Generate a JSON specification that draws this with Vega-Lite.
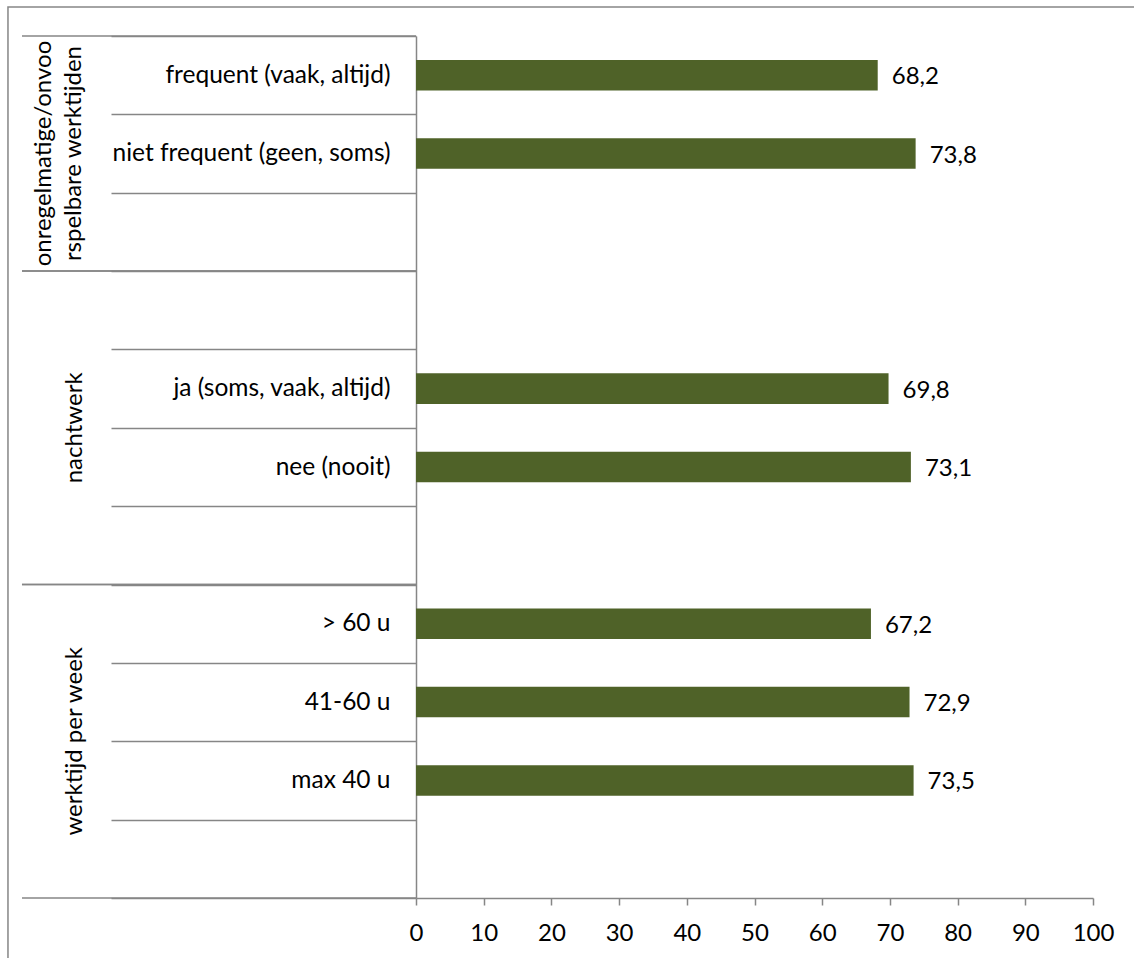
{
  "$schema": "https://vega.github.io/schema/vega-lite/v6.json",
  "width": 677,
  "height": 862,
  "autosize": {"type": "none"},
  "padding": {"left": 416, "top": 36, "right": 41, "bottom": 60},
  "background": "white",
  "config": {
    "view": {"stroke": null},
    "font": "Lato",
    "locale": {"number": {"decimal": ",", "thousands": ".", "grouping": [3], "currency": ["€ ", ""]}}
  },
  "datasets": {
    "rows": [
      {"item": "r01|frequent (vaak, altijd)", "group": "onregelmatige/onvoorspelbare werktijden", "value": 68.2},
      {"item": "r02|niet frequent (geen, soms)", "group": "onregelmatige/onvoorspelbare werktijden", "value": 73.8},
      {"item": "r03|", "group": "onregelmatige/onvoorspelbare werktijden", "value": null},
      {"item": "r04|", "group": "nachtwerk", "value": null},
      {"item": "r05|ja (soms, vaak, altijd)", "group": "nachtwerk", "value": 69.8},
      {"item": "r06|nee (nooit)", "group": "nachtwerk", "value": 73.1},
      {"item": "r07|", "group": "nachtwerk", "value": null},
      {"item": "r08|> 60 u", "group": "werktijd per week", "value": 67.2},
      {"item": "r09|41-60 u", "group": "werktijd per week", "value": 72.9},
      {"item": "r10|max 40 u", "group": "werktijd per week", "value": 73.5},
      {"item": "r11|", "group": "werktijd per week", "value": null}
    ],
    "groups": [
      {"group": "onregelmatige/onvoorspelbare werktijden", "label": "onregelmatige/onvoo\nrspelbare werktijden", "first": "r01|frequent (vaak, altijd)", "last": "r03|", "mid": "r02|niet frequent (geen, soms)"},
      {"group": "nachtwerk", "label": "nachtwerk", "first": "r04|", "last": "r07|", "mid": "r06|nee (nooit)"},
      {"group": "werktijd per week", "label": "werktijd per week", "first": "r08|> 60 u", "last": "r11|", "mid": "r10|max 40 u"}
    ]
  },
  "resolve": {"scale": {"y": "independent"}, "axis": {"y": "independent"}},
  "layer": [
    {
      "data": {"values": [{"element": "chart area"}]},
      "mark": {"type": "rect", "filled": false, "stroke": "#868686", "strokeWidth": 1.5},
      "encoding": {
        "x": {"datum": -60.27, "type": "quantitative", "scale": {"domain": [0, 100], "nice": false, "zero": false}},
        "x2": {"datum": 110},
        "y": {"datum": 11.37, "type": "quantitative", "scale": {"domain": [0, 11], "nice": false, "zero": false}, "axis": null},
        "y2": {"datum": -1.5}
      }
    },
    {
      "data": {"name": "rows"},
      "layer": [
        {
          "mark": {"type": "bar", "color": "#4F6228", "height": {"band": 0.39}},
          "encoding": {
            "y": {
              "field": "item", "type": "nominal", "sort": "ascending", "title": null,
              "scale": {"paddingInner": 0, "paddingOuter": 0},
              "axis": {
                "labelExpr": "split(datum.label, '|')[1]",
                "labelFont": "Lato", "labelFontSize": 24.5, "labelColor": "#000000",
                "labelLimit": 500, "labelPadding": -279, "labelBaseline": "middle",
                "tickBand": "extent", "tickSize": 305, "tickColor": "#868686", "tickWidth": 1.5,
                "domainColor": "#868686", "domainWidth": 1.5, "grid": false
              }
            },
            "x": {
              "field": "value", "type": "quantitative", "title": null,
              "scale": {"domain": [0, 100], "nice": false},
              "axis": {
                "tickCount": 10, "grid": false, "labelFlush": false,
                "labelFont": "Lato", "labelFontSize": 24, "labelColor": "#000000", "labelPadding": 16,
                "tickSize": 7, "tickColor": "#868686", "tickWidth": 1.5,
                "domainColor": "#868686", "domainWidth": 1.5
              }
            }
          }
        },
        {
          "transform": [{"filter": "isValid(datum.value)"}],
          "mark": {"type": "text", "align": "left", "baseline": "middle", "dx": 14, "dy": 2, "fontSize": 24, "font": "Lato", "color": "#000000"},
          "encoding": {
            "y": {"field": "item", "type": "nominal", "title": null},
            "x": {"field": "value", "type": "quantitative"},
            "text": {"field": "value", "type": "quantitative", "format": ".1f"}
          }
        },
        {
          "data": {"name": "groups"},
          "mark": {"type": "rule", "color": "#868686", "strokeWidth": 1.5},
          "encoding": {
            "y": {"field": "first", "type": "nominal", "bandPosition": 0, "title": null},
            "x": {"datum": -58.2},
            "x2": {"datum": 0}
          }
        },
        {
          "data": {"name": "groups"},
          "mark": {"type": "rule", "color": "#868686", "strokeWidth": 1.5},
          "encoding": {
            "y": {"field": "last", "type": "nominal", "bandPosition": 1, "title": null},
            "x": {"datum": -58.2},
            "x2": {"datum": 0}
          }
        },
        {
          "data": {"name": "groups"},
          "transform": [{"filter": {"field": "group", "equal": "onregelmatige/onvoorspelbare werktijden"}}],
          "mark": {"type": "text", "angle": 270, "align": "center", "baseline": "alphabetic", "lineBreak": "\n", "lineHeight": 30, "fontSize": 24, "font": "Lato", "color": "#000000"},
          "encoding": {
            "y": {"field": "mid", "type": "nominal", "bandPosition": 0.5, "title": null},
            "x": {"datum": -53.9},
            "text": {"field": "label", "type": "nominal"}
          }
        },
        {
          "data": {"name": "groups"},
          "transform": [{"filter": {"not": {"field": "group", "equal": "onregelmatige/onvoorspelbare werktijden"}}}],
          "mark": {"type": "text", "angle": 270, "align": "center", "baseline": "alphabetic", "fontSize": 24, "font": "Lato", "color": "#000000"},
          "encoding": {
            "y": {"field": "mid", "type": "nominal", "bandPosition": 0, "title": null},
            "x": {"datum": -49.34},
            "text": {"field": "label", "type": "nominal"}
          }
        }
      ]
    }
  ]
}
